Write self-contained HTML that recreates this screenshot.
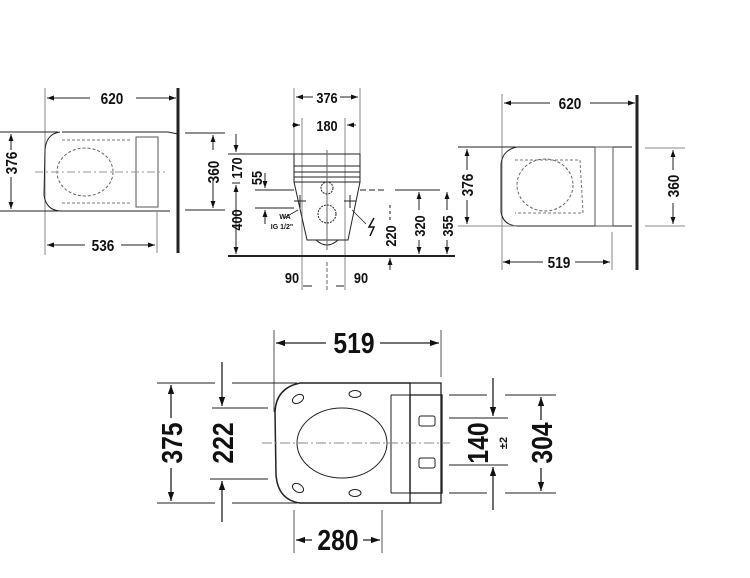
<!DOCTYPE html>
<html><head><meta charset="utf-8"><style>
html,body{margin:0;padding:0;background:#fff}
svg{display:block}
text{font-family:"Liberation Sans Narrow","Liberation Sans",sans-serif;font-weight:bold;fill:#111}
</style></head><body>
<svg width="750" height="578" viewBox="0 0 750 578" xmlns="http://www.w3.org/2000/svg">
<defs>
<marker id="a" viewBox="0 0 10 10" refX="10" refY="5" markerWidth="7" markerHeight="7" orient="auto-start-reverse"><path d="M0,1.5 L10,5 L0,8.5 z" fill="#111"/></marker>
</defs>
<g stroke="#222" stroke-width="1" fill="none">
<!-- LEFT VIEW -->
<line x1="178" y1="88" x2="178" y2="253" stroke-width="3"/>
<line x1="45" y1="88" x2="45" y2="255" stroke="#888"/>
<line x1="47" y1="98" x2="90" y2="98" marker-start="url(#a)"/><line x1="136" y1="98" x2="176" y2="98" marker-end="url(#a)"/>
<path d="M62,132 L168,132 L178,134 M60,132 Q46,134 45,150 L44,195 Q46,210 60,211 L170,211"/>
<rect x="136" y="137" width="22" height="70" stroke="#555"/>
<path d="M62,140 L130,140 M62,203 L130,203" stroke="#777" stroke-dasharray="3,2"/>
<ellipse cx="85" cy="172" rx="28" ry="24" stroke="#666" stroke-dasharray="3,2"/>
<line x1="35" y1="172" x2="165" y2="172" stroke="#999" stroke-dasharray="8,3,2,3"/>
<line x1="0" y1="132" x2="58" y2="132"/><line x1="0" y1="211" x2="58" y2="211"/>
<line x1="11" y1="134" x2="11" y2="150" marker-start="url(#a)"/><line x1="11" y1="177" x2="11" y2="209" marker-end="url(#a)"/>
<line x1="185" y1="133" x2="225" y2="133"/><line x1="185" y1="210" x2="225" y2="210"/>
<line x1="213" y1="135" x2="213" y2="150" marker-start="url(#a)"/><line x1="213" y1="178" x2="213" y2="208" marker-end="url(#a)"/>
<line x1="157" y1="212" x2="157" y2="253" stroke="#888"/>
<line x1="47" y1="245" x2="85" y2="245" marker-start="url(#a)"/><line x1="121" y1="245" x2="155" y2="245" marker-end="url(#a)"/>

<!-- MIDDLE VIEW -->
<line x1="294" y1="88" x2="294" y2="155" stroke="#888"/><line x1="360" y1="88" x2="360" y2="155" stroke="#888"/>
<line x1="296" y1="97" x2="313" y2="97" marker-start="url(#a)"/><line x1="340" y1="97" x2="358" y2="97" marker-end="url(#a)"/>
<line x1="302" y1="118" x2="302" y2="290" stroke="#888"/><line x1="345" y1="118" x2="345" y2="290" stroke="#888"/>
<line x1="292" y1="125" x2="300" y2="125" marker-end="url(#a)"/><line x1="356" y1="125" x2="347" y2="125" marker-end="url(#a)"/>
<rect x="294" y="154" width="66" height="28"/>
<line x1="294" y1="166" x2="360" y2="166"/><line x1="294" y1="172" x2="360" y2="172"/><line x1="294" y1="177" x2="360" y2="177"/>
<path d="M294,182 L307,240 L348,240 L360,182"/>
<path d="M316,240 Q327,250 338,240"/>
<line x1="327" y1="150" x2="327" y2="250" stroke="#666"/>
<circle cx="327" cy="188" r="6" stroke-dasharray="2,1"/><circle cx="327" cy="214" r="9" stroke-dasharray="2,1"/>
<line x1="228" y1="256" x2="455" y2="256" stroke-width="2"/>
<line x1="228" y1="154" x2="294" y2="154"/>
<line x1="236" y1="134" x2="236" y2="152" marker-end="url(#a)"/>
<line x1="236" y1="185" x2="236" y2="254" marker-start="url(#a)" marker-end="url(#a)"/>
<line x1="232" y1="183" x2="240" y2="183"/>
<line x1="255" y1="190" x2="294" y2="190"/><line x1="255" y1="208" x2="294" y2="208"/>
<line x1="265" y1="173" x2="265" y2="188" marker-end="url(#a)"/><line x1="265" y1="224" x2="265" y2="210" marker-end="url(#a)"/>
<line x1="300" y1="195" x2="300" y2="208"/><line x1="294" y1="201" x2="306" y2="201"/>
<line x1="350" y1="195" x2="350" y2="208"/><line x1="344" y1="201" x2="356" y2="201"/>
<line x1="298" y1="210" x2="284" y2="218" stroke-width="0.8"/>
<line x1="352" y1="210" x2="366" y2="224" stroke-width="0.8"/>
<line x1="360" y1="190" x2="385" y2="190" stroke-dasharray="6,3"/>
<line x1="395" y1="190" x2="440" y2="190"/>
<line x1="390" y1="205" x2="390" y2="220" stroke-dasharray="3,3"/><line x1="390" y1="270" x2="390" y2="258" marker-end="url(#a)"/>
<line x1="419" y1="192" x2="419" y2="210" marker-start="url(#a)"/><line x1="419" y1="240" x2="419" y2="254" marker-end="url(#a)"/>
<line x1="447" y1="192" x2="447" y2="210" marker-start="url(#a)"/><line x1="447" y1="240" x2="447" y2="254" marker-end="url(#a)"/>
<line x1="303" y1="286" x2="312" y2="286"/><line x1="344" y1="286" x2="336" y2="286"/>
<line x1="327" y1="262" x2="327" y2="292" stroke="#666" stroke-dasharray="4,2"/>

<!-- RIGHT VIEW -->
<line x1="637" y1="95" x2="637" y2="270" stroke-width="3"/>
<line x1="502" y1="94" x2="502" y2="270" stroke="#888"/>
<line x1="504" y1="103" x2="550" y2="103" marker-start="url(#a)"/><line x1="590" y1="103" x2="635" y2="103" marker-end="url(#a)"/>
<path d="M517,147 L632,147 M517,147 Q502,150 501,165 L501,212 Q503,225 517,226 L632,226"/>
<rect x="595" y="147" width="18" height="79" stroke="#555"/>
<ellipse cx="545" cy="185" rx="28" ry="26" stroke="#666" stroke-dasharray="3,2"/>
<path d="M515,160 L580,160 L583,213 L515,213" stroke="#777" stroke-dasharray="3,2"/>
<line x1="458" y1="147" x2="516" y2="147"/><line x1="458" y1="226" x2="516" y2="226" stroke="#888"/>
<line x1="467" y1="149" x2="467" y2="170" marker-start="url(#a)"/><line x1="467" y1="200" x2="467" y2="224" marker-end="url(#a)"/>
<line x1="645" y1="148" x2="685" y2="148" stroke="#888"/><line x1="645" y1="226" x2="685" y2="226" stroke="#888"/>
<line x1="673" y1="150" x2="673" y2="170" marker-start="url(#a)"/><line x1="673" y1="203" x2="673" y2="224" marker-end="url(#a)"/>
<line x1="612" y1="232" x2="612" y2="270" stroke="#888"/>
<line x1="503" y1="262" x2="543" y2="262" marker-start="url(#a)"/><line x1="575" y1="262" x2="610" y2="262" marker-end="url(#a)"/>

<!-- BOTTOM VIEW -->
<line x1="274" y1="330" x2="274" y2="412" stroke="#555"/><line x1="441" y1="330" x2="441" y2="377" stroke="#555"/>
<line x1="276" y1="343" x2="326" y2="343" marker-start="url(#a)" stroke-width="1.3"/><line x1="380" y1="343" x2="439" y2="343" marker-end="url(#a)" stroke-width="1.3"/>
<path d="M300,383 L410,383 M300,383 Q276,388 275,412 L276,475 Q278,500 300,503 L410,503" stroke-width="1.5"/>
<rect x="410" y="383" width="31" height="120" stroke-width="1.3"/>
<rect x="410" y="395" width="32" height="98" stroke-width="1.3"/>
<line x1="391" y1="395" x2="410" y2="395"/><line x1="391" y1="395" x2="391" y2="493"/><line x1="391" y1="493" x2="410" y2="493"/>
<ellipse cx="342" cy="443" rx="45" ry="35"/>
<rect x="419" y="416" width="16" height="10" rx="2"/><rect x="419" y="458" width="16" height="10" rx="2"/>
<ellipse cx="298" cy="399" rx="6" ry="4" transform="rotate(-30 298 399)"/>
<ellipse cx="355" cy="394" rx="6" ry="3.5"/>
<ellipse cx="298" cy="488" rx="6" ry="4" transform="rotate(30 298 488)"/>
<ellipse cx="355" cy="493" rx="6" ry="3.5"/>
<line x1="262" y1="443" x2="450" y2="443" stroke="#888" stroke-dasharray="10,3,2,3"/>
<line x1="157" y1="383" x2="215" y2="383"/><line x1="232" y1="383" x2="297" y2="383"/>
<line x1="157" y1="503" x2="215" y2="503"/><line x1="232" y1="503" x2="297" y2="503"/>
<line x1="171" y1="385" x2="171" y2="418" marker-start="url(#a)" stroke-width="1.3"/><line x1="171" y1="468" x2="171" y2="501" marker-end="url(#a)" stroke-width="1.3"/>
<line x1="212" y1="408" x2="268" y2="408"/><line x1="210" y1="479" x2="268" y2="479"/>
<line x1="222" y1="362" x2="222" y2="406" marker-end="url(#a)" stroke-width="1.3"/><line x1="222" y1="522" x2="222" y2="481" marker-end="url(#a)" stroke-width="1.3"/>
<line x1="449" y1="395" x2="487" y2="395"/><line x1="505" y1="395" x2="556" y2="395"/>
<line x1="449" y1="493" x2="487" y2="493"/><line x1="505" y1="493" x2="556" y2="493"/>
<line x1="449" y1="418" x2="508" y2="418"/><line x1="449" y1="465" x2="508" y2="465"/>
<line x1="493" y1="378" x2="493" y2="416" marker-end="url(#a)" stroke-width="1.3"/><line x1="493" y1="510" x2="493" y2="467" marker-end="url(#a)" stroke-width="1.3"/>
<line x1="541" y1="397" x2="541" y2="420" marker-start="url(#a)" stroke-width="1.3"/><line x1="541" y1="468" x2="541" y2="491" marker-end="url(#a)" stroke-width="1.3"/>
<line x1="294" y1="510" x2="294" y2="553" stroke="#555"/><line x1="382" y1="510" x2="382" y2="553" stroke="#555"/>
<line x1="296" y1="540" x2="312" y2="540" marker-start="url(#a)" stroke-width="1.3"/><line x1="363" y1="540" x2="380" y2="540" marker-end="url(#a)" stroke-width="1.3"/>
</g>
<path d="M374,218 L369,227 L374,227 L370,236" stroke="#111" stroke-width="1.5" fill="none"/>
<!-- texts -->
<g font-size="16">
<text transform="translate(112,104) scale(0.85,1)" text-anchor="middle">620</text>
<text transform="translate(103,251) scale(0.85,1)" text-anchor="middle">536</text>
<text transform="translate(17,163) rotate(-90) scale(0.85,1)" text-anchor="middle">376</text>
<text transform="translate(219,172) rotate(-90) scale(0.85,1)" text-anchor="middle">360</text>
<text transform="translate(327,103) scale(0.85,1)" text-anchor="middle" font-size="15">376</text>
<text transform="translate(327,131) scale(0.85,1)" text-anchor="middle" font-size="15">180</text>
<text transform="translate(242,168) rotate(-90) scale(0.85,1)" text-anchor="middle" font-size="15">170</text>
<text transform="translate(242,220) rotate(-90) scale(0.85,1)" text-anchor="middle" font-size="15">400</text>
<text transform="translate(262,178) rotate(-90) scale(0.85,1)" text-anchor="middle" font-size="15">55</text>
<text transform="translate(396,236) rotate(-90) scale(0.85,1)" text-anchor="middle" font-size="15">220</text>
<text transform="translate(425,226) rotate(-90) scale(0.85,1)" text-anchor="middle" font-size="15">320</text>
<text transform="translate(453,226) rotate(-90) scale(0.85,1)" text-anchor="middle" font-size="15">355</text>
<text transform="translate(292,283) scale(0.85,1)" text-anchor="middle" font-size="15">90</text>
<text transform="translate(361,283) scale(0.85,1)" text-anchor="middle" font-size="15">90</text>
<text transform="translate(570,109) scale(0.85,1)" text-anchor="middle">620</text>
<text transform="translate(559,268) scale(0.85,1)" text-anchor="middle">519</text>
<text transform="translate(473,185) rotate(-90) scale(0.85,1)" text-anchor="middle">376</text>
<text transform="translate(679,186) rotate(-90) scale(0.85,1)" text-anchor="middle">360</text>
</g>
<text x="285" y="219" font-size="7" font-weight="normal" text-anchor="middle">WA</text>
<text x="282" y="229" font-size="7" font-weight="normal" text-anchor="middle">IG 1/2"</text>
<g font-size="29">
<text transform="translate(354,353) scale(0.85,1)" text-anchor="middle">519</text>
<text transform="translate(338,550) scale(0.85,1)" text-anchor="middle">280</text>
<text transform="translate(182,443) rotate(-90) scale(0.85,1)" text-anchor="middle">375</text>
<text transform="translate(233,443) rotate(-90) scale(0.85,1)" text-anchor="middle">222</text>
<text transform="translate(488,443) rotate(-90) scale(0.85,1)" text-anchor="middle">140</text>
<text transform="translate(552,443) rotate(-90) scale(0.85,1)" text-anchor="middle">304</text>
</g>
<text transform="translate(507,443) rotate(-90)" text-anchor="middle" font-size="11">±2</text>
</svg>
</body></html>
